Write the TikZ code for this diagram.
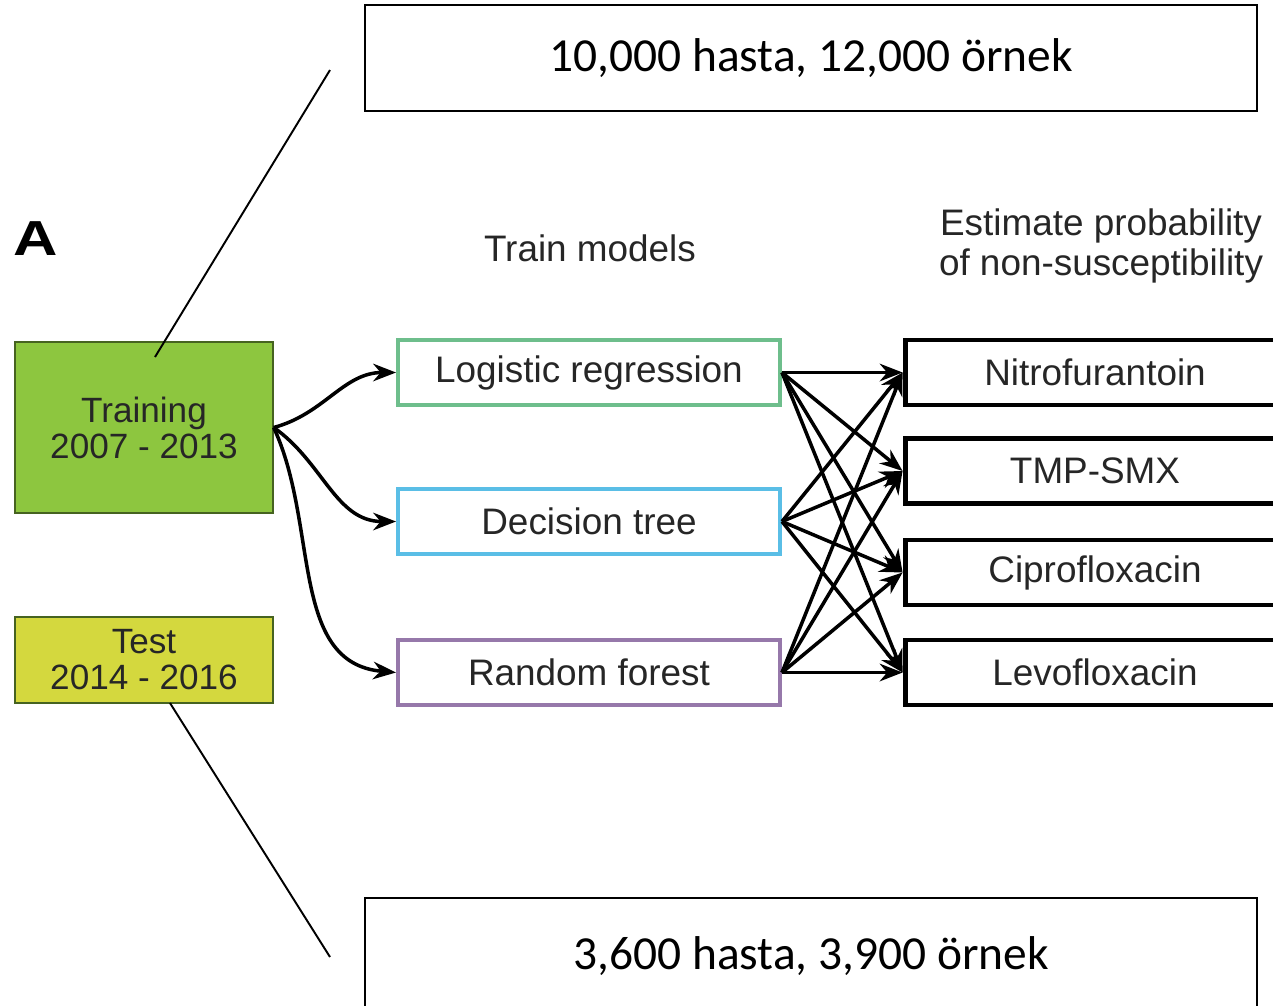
\documentclass[tikz,border=0pt]{standalone}
\usepackage{fontspec}
\setmainfont{Liberation Sans}
\newfontfamily\calibri{Carlito}
\usepackage{tikz}
\usetikzlibrary{positioning, arrows.meta}
\definecolor{traingreen}{RGB}{141,198,63}
\definecolor{testyellow}{RGB}{212,216,62}
\definecolor{logitgreen}{RGB}{110,190,140}
\definecolor{treeblue}{RGB}{90,190,230}
\definecolor{forestpurple}{RGB}{150,120,170}
\tikzset{
>={Stealth[length=13pt,width=10pt]}, % makes the arrow heads bold
every node/.style={font=\fontsize{21}{23}\selectfont, text=black!85}, % Arial-like text everywhere
datebox/.style={draw=black!50!traingreen, thick, minimum width=5.16cm, align=center, font=\fontsize{20}{20.5}\selectfont}, % the two period boxes
modelbox/.style={line width=2.3pt, fill=white, minimum width=7.64cm, minimum height=1.3cm}, % coloured model frames
drugbox/.style={draw=black, line width=2.8pt, minimum width=7.6cm, minimum height=1.3cm}, % the four outcome boxes
notebox/.style={draw=black, line width=1.1pt, minimum width=17.84cm, text=black, font=\calibri\fontsize{27}{30}\selectfont}, % added notes
flow/.style={->, line width=2pt}
}

\begin{document}
\begin{tikzpicture}[x=0.02cm, y=-0.02cm]
      \clip (0,0) rectangle (1273,1005);

      \node[font=\bfseries\fontsize{28}{30}\selectfont, text=black] (label) at (36,239) {\scalebox{1.25}[1]{A}};
      \node (trainhead) at (590,248) {Train models};
      \node[align=center] (esthead) at (1101,246) {Estimate probability\\of non-susceptibility};

      \node[datebox, fill=traingreen, minimum height=3.42cm] (training) at (144,427.5) {Training\\2007 - 2013};
      \node[datebox, fill=testyellow, minimum height=1.72cm] (test) at (144,660) {Test\\2014 - 2016};

      \node[modelbox, draw=logitgreen] (logit) at (589,372.5) {Logistic regression};
      \node[modelbox, draw=treeblue] (tree) at (589,521.5) {Decision tree};
      \node[modelbox, draw=forestpurple] (forest) at (589,672.5) {Random forest};

      \node[drugbox] (nitro) at (1095,372.5) {Nitrofurantoin};
      \node[drugbox] (tmp) at (1095,471) {TMP-SMX};
      \node[drugbox] (cipro) at (1095,572.5) {Ciprofloxacin};
      \node[drugbox] (levo) at (1095,672.5) {Levofloxacin};

      \node[notebox, minimum height=2.12cm] (trainnote) at (811,58) {10,000 hasta, 12,000 örnek};
      \node[notebox, minimum height=2.32cm] (testnote) at (811,956) {3,600 hasta, 3,900 örnek};

      % training data feeds each model
      \draw[flow] (training.east) to[out=15, in=180] (logit.west);
      \draw[flow] (training.east) to[out=-35, in=180] (tree.west);
      \draw[flow] (training.east) to[out=-65, in=175] (forest.west);

      % every model predicts every drug
      \foreach \m in {logit, tree, forest}
        \foreach \d in {nitro, tmp, cipro, levo}
          \draw[flow] (\m.east) -- (\d.west);

      % pointers from the notes
      \coordinate (trainpin) at (155,357);
      \coordinate (trainend) at (330,70);
      \coordinate (testpin) at (170,703);
      \coordinate (testend) at (330,957);
      \draw[line width=1.1pt] (trainend) -- (trainpin);
      \draw[line width=1.1pt] (testend) -- (testpin);
    \end{tikzpicture}
\end{document}
